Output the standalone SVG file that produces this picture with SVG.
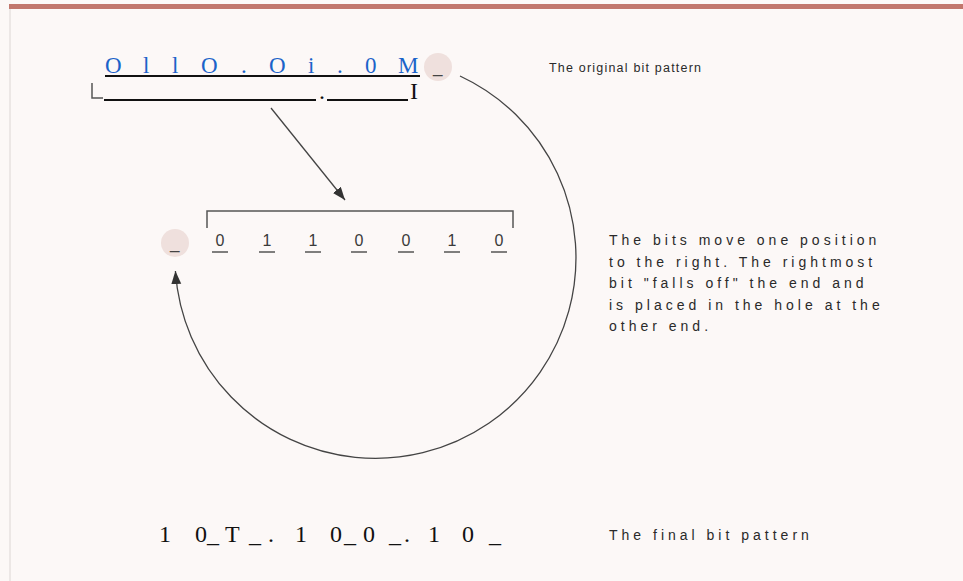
<svg xmlns="http://www.w3.org/2000/svg" width="963" height="581" viewBox="0 0 963 581">
<style>
.bg{fill:#fcf8f7}
.blue{font-family:"Liberation Serif",serif;font-size:23px;fill:#1b63c9}
.serif{font-family:"Liberation Serif",serif;font-size:24px;fill:#111}
.lbl{font-family:"Liberation Sans",Arial,sans-serif;font-size:14px;fill:#2a2a2a;letter-spacing:4px}
.lblsm{font-family:"Liberation Sans",Arial,sans-serif;font-size:12.5px;fill:#2a2a2a;letter-spacing:1.2px}
.dig{font-family:"Liberation Sans",Arial,sans-serif;font-size:16px;fill:#3a3a3a;text-anchor:middle}
.dash{font-family:"Liberation Sans",Arial,sans-serif;font-size:17px;fill:#444}
.uline{stroke:#111;stroke-width:2;fill:none}
.dline{stroke:#555;stroke-width:1.6;fill:none}
.brk{stroke:#555;stroke-width:1.5;fill:none}
.conn{stroke:#444;stroke-width:1.3;fill:none}
.hole{fill:#efe0dd}
</style>
<defs>
<marker id="ah" markerUnits="userSpaceOnUse" markerWidth="14" markerHeight="12" refX="13" refY="5" orient="auto">
<path d="M0,0 L13,5 L0,10 z" fill="#333"/>
</marker>
</defs>
<rect class="bg" x="0" y="0" width="963" height="581"/>
<rect x="9" y="4" width="954" height="5" fill="#c2776d"/>
<line x1="10" y1="9" x2="10" y2="581" stroke="#dcd6d4" stroke-width="1"/>

<g id="original-pattern">
<text class="blue" x="105 124 143 151 172 181 201 219 241 249 269 288 308 316 337 345 365 380 398" y="73">O l l O . O i . 0 M</text>
<line class="uline" x1="105" y1="76" x2="420" y2="76"/>
<path class="brk" d="M92,83 V98 H103" stroke="#888"/>
<line class="uline" x1="104" y1="100" x2="316" y2="100"/>
<text class="serif" x="319" y="99">.</text>
<line class="uline" x1="327" y1="100" x2="408" y2="100"/>
<text class="serif" x="410" y="99">I</text>
</g>

<g id="falling-bit">
<circle class="hole" cx="438" cy="67" r="14"/>
<text class="dash" x="433" y="73">_</text>
</g>

<g id="label-original">
<text class="lblsm" x="549" y="72">The original bit pattern</text>
</g>

<g id="shifted-pattern">
<path class="brk" d="M207,228 V211 H513 V228"/>
<text class="dig" x="220" y="246">0</text>
<text class="dig" x="267" y="246">1</text>
<text class="dig" x="313" y="246">1</text>
<text class="dig" x="359" y="246">0</text>
<text class="dig" x="406" y="246">0</text>
<text class="dig" x="452" y="246">1</text>
<text class="dig" x="499" y="246">0</text>
<path class="dline" d="M212,252 h16 M259,252 h16 M305,252 h16 M351,252 h16 M398,252 h16 M444,252 h16 M491,252 h16"/>
</g>

<g id="hole">
<circle class="hole" cx="175" cy="243" r="14"/>
<text class="dash" x="170" y="249">_</text>
</g>

<g id="label-move">
<text class="lbl" x="609" y="245">The bits move one position</text>
<text class="lbl" x="609" y="266.5">to the right. The rightmost</text>
<text class="lbl" x="609" y="288">bit "falls off" the end and</text>
<text class="lbl" x="609" y="309.5">is placed in the hole at the</text>
<text class="lbl" x="609" y="331">other end.</text>
</g>

<g id="final-pattern">
<text class="serif" x="159 171 195 207 225 249 268 276 295 307 330 344 363 376 389 404 411 428 440 462 475 489" y="542">1 0_T_. 1 0_0 _. 1 0 _</text>
</g>

<g id="label-final">
<text class="lbl" x="609" y="540">The final bit pattern</text>
</g>

<g id="connectors">
<line class="conn" x1="271" y1="108" x2="345" y2="200" marker-end="url(#ah)"/>
<path class="conn" d="M460,76 A200.5,200.5 0 1 1 175.4,271" marker-end="url(#ah)"/>
</g>
</svg>
